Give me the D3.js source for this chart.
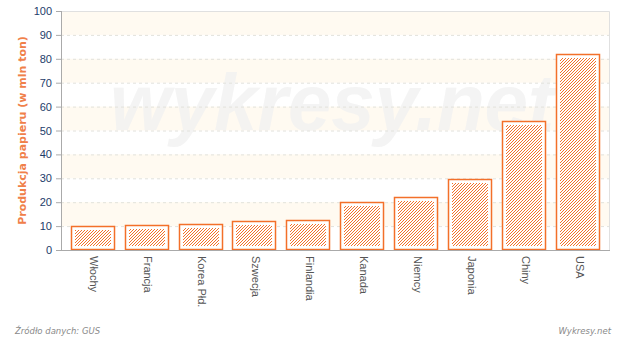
<!DOCTYPE html>
<meta charset="utf-8">
<title>Produkcja papieru</title>
<style>
  body { margin: 0; background: #fff; font-family: "DejaVu Sans", Verdana, sans-serif; }
  .grid line { stroke: #e2e2dc; stroke-dasharray: 3, 3; }
  .y.axis text { fill: #1d3c6a; font-size: 11px; }
  .x.axis text { fill: #555; font-size: 11px; }
  .axis path, .axis line { stroke: #aaa; }
</style>
<body>
<script src="https://d3js.org/d3.v7.min.js"></script>
<script>
var countries = ["Włochy", "Francja", "Korea Płd.", "Szwecja", "Finlandia", "Kanada", "Niemcy", "Japonia", "Chiny", "USA"];
var values = [10.0, 10.4, 10.9, 12.0, 12.4, 20.0, 22.0, 29.8, 53.9, 82.0];
var yTicks = [0, 10, 20, 30, 40, 50, 60, 70, 80, 90, 100];

var W = 620, H = 337;
var margin = {top: 11, right: 10, bottom: 87, left: 61};
var width = W - margin.left - margin.right,
    height = H - margin.top - margin.bottom;

var orange = "#f3702a";

var svg = d3.select("body").append("svg")
    .attr("width", W)
    .attr("height", H);

// pixel hatch, "/" direction, pitch 3px
var defs = svg.append("defs");
var pat = defs.append("pattern")
    .attr("id", "hatch")
    .attr("patternUnits", "userSpaceOnUse")
    .attr("width", 3)
    .attr("height", 3);
pat.append("rect").attr("width", 3).attr("height", 3).attr("fill", "#fff");
pat.selectAll("rect.px").data([[2, 0], [1, 1], [0, 2]]).enter().append("rect")
    .attr("class", "px")
    .attr("x", function(d) { return d[0]; })
    .attr("y", function(d) { return d[1]; })
    .attr("width", 1).attr("height", 1)
    .attr("fill", orange);

var g = svg.append("g")
    .attr("transform", "translate(" + margin.left + "," + margin.top + ")");

var x = d3.scaleBand().domain(countries).range([0, width]).paddingInner(0.185).paddingOuter(0.176);
var y = d3.scaleLinear().domain([0, 100]).range([height, 0]);

// alternating bands
var bands = yTicks.slice(0, -1).filter(function(d) { return (d / 10) % 2 === 1; });
g.selectAll("rect.band").data(bands).enter().append("rect")
    .attr("class", "band")
    .attr("x", 0)
    .attr("width", width)
    .attr("y", function(d) { return y(d + 10); })
    .attr("height", function(d) { return y(d) - y(d + 10); })
    .attr("fill", "#fffaf1");

// watermark
g.append("text")
    .attr("x", 49)
    .attr("y", 119)
    .attr("textLength", 444)
    .attr("lengthAdjust", "spacingAndGlyphs")
    .style("font-family", "'Liberation Sans', Arial, sans-serif")
    .style("font-weight", "bold")
    .style("font-style", "italic")
    .style("font-size", "80px")
    .style("fill", "#f2f2f2")
    .style("opacity", 0.8)
    .text("wykresy.net");

// grid
g.append("g").attr("class", "grid")
    .selectAll("line").data(yTicks.slice(1, -1)).enter().append("line")
    .attr("x1", 0).attr("x2", width)
    .attr("y1", function(d) { return y(d) + 0.5; })
    .attr("y2", function(d) { return y(d) + 0.5; });

// frame top/right
g.append("path")
    .attr("d", "M0," + (y(100) + 0.5) + "H" + (width - 0.5) + "V" + height)
    .attr("fill", "none")
    .attr("stroke", "#e0e0e0");

// bars
var bars = g.selectAll("g.bar").data(values).enter().append("g").attr("class", "bar");
bars.append("rect")
    .attr("x", function(d, i) { return Math.round(x(countries[i])) + 0.5; })
    .attr("y", function(d) { return Math.round(y(d)) + 0.5; })
    .attr("width", Math.round(x.bandwidth()) - 1)
    .attr("height", function(d) { return height - Math.round(y(d)) - 1; })
    .attr("fill", "#fff")
    .attr("stroke", orange)
    .attr("stroke-width", 1.5);
bars.append("rect")
    .attr("x", function(d, i) { return Math.round(x(countries[i])) + 4; })
    .attr("y", function(d) { return Math.round(y(d)) + 4; })
    .attr("width", Math.round(x.bandwidth()) - 8)
    .attr("height", function(d) { return height - Math.round(y(d)) - 8; })
    .attr("fill", "url(#hatch)");

// axes
var yAxis = g.append("g").attr("class", "y axis")
    .call(d3.axisLeft(y).tickValues(yTicks).tickSize(5).tickPadding(4));
yAxis.select(".domain").attr("d", "M0.5,0V" + height);

var xAxis = g.append("g").attr("class", "x axis")
    .attr("transform", "translate(0," + height + ")")
    .call(d3.axisBottom(x).tickSize(0));
xAxis.select(".domain").attr("d", "M0," + 0.5 + "H" + width);
xAxis.selectAll("text")
    .attr("transform", "rotate(90)")
    .attr("x", 6)
    .attr("y", 0)
    .attr("dy", "0.2em")
    .style("text-anchor", "start");

// y title
svg.append("text")
    .attr("transform", "translate(26," + (margin.top + height / 2) + ") rotate(-90)")
    .style("text-anchor", "middle")
    .style("font-size", "11px")
    .style("font-weight", "bold")
    .style("fill", "#f0804a")
    .text("Produkcja papieru (w mln ton)");

// footer
svg.append("text")
    .attr("x", 15).attr("y", 334)
    .style("font-size", "8.5px").style("font-style", "italic").style("fill", "#8a8a8a")
    .text("Źródło danych: GUS");
svg.append("text")
    .attr("x", 611).attr("y", 334)
    .style("text-anchor", "end")
    .style("font-size", "8.5px").style("font-style", "italic").style("fill", "#8a8a8a")
    .text("Wykresy.net");
</script>
</body>
